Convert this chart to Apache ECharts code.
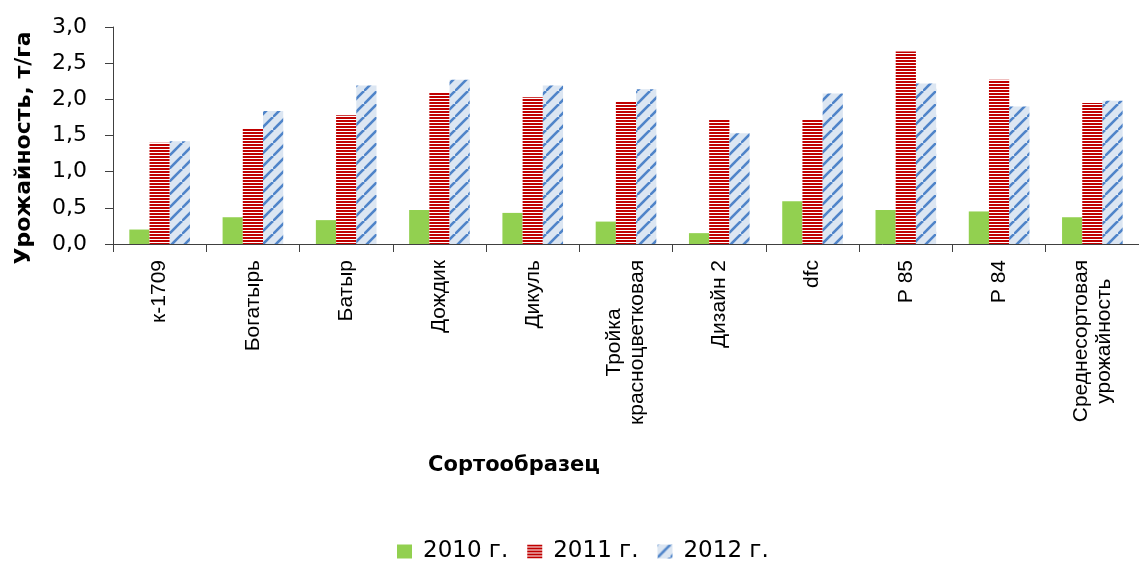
<!DOCTYPE html>
<html>
<head>
<meta charset="utf-8">
<script src="https://cdn.jsdelivr.net/npm/echarts@6/dist/echarts.min.js"></script>
<style>
  html, body { margin: 0; padding: 0; background: #fff; }
  #chart { width: 1139px; height: 561px; }
</style>
</head>
<body>
<div id="chart"></div>
<script>
// Yield of variety samples, t/ha, by year
const categories = [
  'к-1709', 'Богатырь', 'Батыр', 'Дождик', 'Дикуль',
  'Тройка\nкрасноцветковая', 'Дизайн 2', 'dfc', 'Р 85', 'Р 84',
  'Среднесортовая\nурожайность'
];
const seriesNames = ['2010 г.', '2011 г.', '2012 г.'];
const yield2010 = [0.20, 0.37, 0.33, 0.47, 0.43, 0.31, 0.15, 0.59, 0.47, 0.45, 0.37];
const yield2011 = [1.40, 1.59, 1.78, 2.09, 2.03, 1.97, 1.72, 1.72, 2.66, 2.27, 1.95];
const yield2012 = [1.42, 1.84, 2.19, 2.27, 2.19, 2.14, 1.53, 2.08, 2.22, 1.90, 1.98];
const yTicks = { min: 0, max: 3, interval: 0.5 };

// Horizontal red stripes on white
function stripeTile() {
  const c = document.createElement('canvas');
  c.width = 4; c.height = 3;
  const g = c.getContext('2d');
  g.fillStyle = '#ffffff';
  g.fillRect(0, 0, 4, 3);
  g.fillStyle = '#c00000';
  g.fillRect(0, 0, 4, 2);
  return c;
}

// Wide upward diagonal blue strokes on pale blue
function diagonalTile() {
  const s = 13;
  const c = document.createElement('canvas');
  c.width = s; c.height = s;
  const g = c.getContext('2d');
  g.fillStyle = '#dce6f2';
  g.fillRect(0, 0, s, s);
  g.strokeStyle = '#4f84c9';
  g.lineWidth = 2.6;
  g.lineCap = 'butt';
  [[-s, s, 0, 0], [0, s, s, 0], [s, s * 2, s * 2, s]]
    .forEach(([x1, y1, x2, y2]) => {
      g.beginPath(); g.moveTo(x1, y1); g.lineTo(x2, y2); g.stroke();
    });
  return c;
}

const axisColor = '#404040';
const textColor = '#000000';

const chart = echarts.init(document.getElementById('chart'), null, { renderer: 'canvas' });
chart.setOption({
  animation: false,
  backgroundColor: '#ffffff',
  grid: { left: 113, right: -8, top: 27, bottom: 317, containLabel: false },
  legend: {
    left: 392,
    top: 535,
    itemWidth: 15,
    itemHeight: 14,
    itemGap: 19,
    icon: 'rect',
    data: seriesNames,
    textStyle: {
      fontFamily: 'DejaVu Sans',
      fontSize: 23,
      color: textColor,
      padding: [0, 0, 0, 6]
    }
  },
  xAxis: {
    type: 'category',
    data: categories,
    axisLine: { lineStyle: { color: axisColor, width: 1 } },
    axisTick: { show: true, length: 8, lineStyle: { color: axisColor } },
    axisLabel: {
      interval: 0,
      rotate: 90,
      margin: 16,
      color: textColor,
      fontFamily: 'Liberation Sans',
      fontSize: 21,
      lineHeight: 23,
      formatter: v => v.split('\n').map(s => '{c|' + s + '}').join('\n'),
      rich: {
        c: { align: 'center', fontFamily: 'Liberation Sans', fontSize: 21, lineHeight: 23, color: textColor }
      }
    },
    splitLine: { show: false }
  },
  yAxis: {
    type: 'value',
    min: yTicks.min,
    max: yTicks.max,
    interval: yTicks.interval,
    axisLine: { show: true, lineStyle: { color: axisColor, width: 1 } },
    axisTick: { show: true, length: 8, lineStyle: { color: axisColor } },
    axisLabel: {
      margin: 26,
      color: textColor,
      fontFamily: 'DejaVu Sans',
      fontSize: 22,
      formatter: v => v.toFixed(1).replace('.', ',')
    },
    splitLine: { show: false }
  },
  graphic: [
    {
      type: 'text',
      x: 24, y: 148,
      rotation: Math.PI / 2,
      style: {
        text: 'Урожайность, т/га',
        fontFamily: 'DejaVu Sans',
        fontWeight: 'bold',
        fontSize: 22,
        fill: textColor,
        align: 'center',
        verticalAlign: 'middle'
      }
    },
    {
      type: 'text',
      x: 514, y: 466,
      style: {
        text: 'Сортообразец',
        fontFamily: 'DejaVu Sans',
        fontWeight: 'bold',
        fontSize: 21,
        fill: textColor,
        align: 'center',
        verticalAlign: 'middle'
      }
    }
  ],
  series: [
    {
      name: seriesNames[0],
      type: 'bar',
      data: yield2010,
      barGap: '0%',
      barCategoryGap: '35%',
      itemStyle: { color: '#92d050' }
    },
    {
      name: seriesNames[1],
      type: 'bar',
      data: yield2011,
      barGap: '0%',
      barCategoryGap: '35%',
      itemStyle: { color: { image: stripeTile(), repeat: 'repeat' } }
    },
    {
      name: seriesNames[2],
      type: 'bar',
      data: yield2012,
      barGap: '0%',
      barCategoryGap: '35%',
      itemStyle: { color: { image: diagonalTile(), repeat: 'repeat' } }
    }
  ]
});
</script>
</body>
</html>
